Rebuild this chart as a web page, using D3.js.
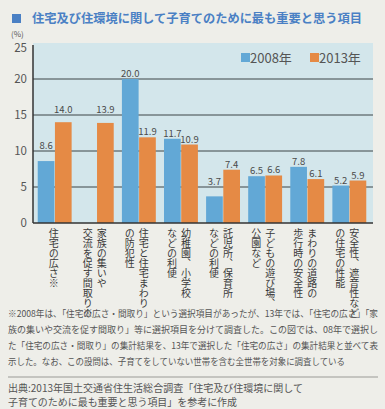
<!DOCTYPE html>
<html>
<head>
<meta charset="utf-8">
<script src="https://cdn.jsdelivr.net/npm/d3@7"></script>
<style>
  html, body { margin: 0; padding: 0; background: #eeeee9; }
  svg { display: block; font-family: "Noto Sans CJK JP", "Noto Sans", sans-serif; }
</style>
</head>
<body>
<svg id="chart" width="385" height="409"></svg>
<script>
// categories, columns of the vertical label split by "|"
var categories = [
  "住宅の広さ※",
  "家族の集いや|交流を促す間取り※",
  "住宅と住宅まわり|の防犯性",
  "幼稚園、小学校|などの利便",
  "託児所、保育所|などの利便",
  "子どもの遊び場、|公園など",
  "まわりの道路の|歩行時の安全性",
  "安全性、遮音性など|の住宅の性能"
];
var seriesNames = ["2008年", "2013年"];
var values2008 = [8.6, null, 20.0, 11.7, 3.7, 6.5, 7.8, 5.2];
var values2013 = [14.0, 13.9, 11.9, 10.9, 7.4, 6.6, 6.1, 5.9];
var yTicks = [0, 5, 10, 15, 20, 25];

var title = "住宅及び住環境に関して子育てのために最も重要と思う項目";
var noteLines = [
  "※2008年は、「住宅の広さ・間取り」という選択項目があったが、13年では、「住宅の広さ」「家",
  "族の集いや交流を促す間取り」等に選択項目を分けて調査した。この図では、08年で選択し",
  "た「住宅の広さ・間取り」の集計結果を、13年で選択した「住宅の広さ」の集計結果と並べて表",
  "示した。なお、この設問は、子育てをしていない世帯を含む全世帯を対象に調査している"
];
var sourceLines = [
  "出典:2013年国土交通省住生活総合調査「住宅及び住環境に関して",
  "子育てのために最も重要と思う項目」を参考に作成"
];

var colors = { "2008年": "#62a8d6", "2013年": "#e58a45" };
var titleBlue = "#4a80c4";

var svg = d3.select("#chart");

var plot = { left: 33, right: 373, top: 43, bottom: 223 };

var x = d3.scaleBand()
    .domain(d3.range(categories.length))
    .range([plot.left, plot.right - 2])
    .paddingInner(0.17)
    .paddingOuter(0.1);

var x1 = d3.scaleBand()
    .domain(seriesNames)
    .range([0, x.bandwidth()])
    .padding(0.03);

var y = d3.scaleLinear()
    .domain([0, 25])
    .range([plot.bottom, plot.top]);

// title
svg.append("rect")
    .attr("x", 12).attr("y", 14)
    .attr("width", 9).attr("height", 9)
    .attr("fill", titleBlue);
svg.append("text")
    .attr("x", 32).attr("y", 23)
    .attr("font-size", 12.2)
    .attr("font-weight", "bold")
    .attr("fill", titleBlue)
    .attr("textLength", 330)
    .attr("lengthAdjust", "spacingAndGlyphs")
    .text(title);

// plot background
svg.append("rect")
    .attr("x", plot.left).attr("y", plot.top)
    .attr("width", plot.right - plot.left)
    .attr("height", plot.bottom - plot.top)
    .attr("fill", "#d3e6eb");

// gridlines
svg.append("g").selectAll("line")
    .data(yTicks.filter(function(d) { return d > 0 && d < 25; }))
  .enter().append("line")
    .attr("x1", plot.left).attr("x2", plot.right)
    .attr("y1", function(d) { return y(d); })
    .attr("y2", function(d) { return y(d); })
    .attr("stroke", "#3d4446")
    .attr("stroke-width", 1);

// y tick labels
svg.append("g").selectAll("text")
    .data(yTicks)
  .enter().append("text")
    .attr("x", 27)
    .attr("y", function(d) { return y(d) + (d === 25 ? 5 : 0); })
    .attr("dy", "0.35em")
    .attr("text-anchor", "end")
    .attr("font-size", 11.5)
    .attr("fill", "#555")
    .text(function(d) { return d; });

svg.append("text")
    .attr("x", 11).attr("y", 37)
    .attr("font-size", 8)
    .attr("fill", "#555")
    .text("(%)");

// bars
var rows = categories.map(function(c, i) {
  return { i: i, vals: [
    { key: seriesNames[0], v: values2008[i] },
    { key: seriesNames[1], v: values2013[i] }
  ]};
});

var groups = svg.append("g").selectAll("g")
    .data(rows)
  .enter().append("g")
    .attr("transform", function(d) { return "translate(" + x(d.i) + ",0)"; });

var bars = groups.selectAll("g")
    .data(function(d) { return d.vals.filter(function(v) { return v.v !== null; }); })
  .enter();

bars.append("rect")
    .attr("x", function(d) { return x1(d.key); })
    .attr("y", function(d) { return y(d.v); })
    .attr("width", x1.bandwidth())
    .attr("height", function(d) { return plot.bottom - y(d.v); })
    .attr("fill", function(d) { return colors[d.key]; });

// value labels, bumped above a gridline that would cut through them
var gridYs = [5, 10, 15, 20].map(y);
function labelY(v) {
  var top = y(v);
  var base = top - 2;
  gridYs.forEach(function(g) {
    if (g < top - 0.5 && g > top - 12) { base = g - 2; }
  });
  return base;
}

bars.append("text")
    .attr("x", function(d) { return x1(d.key) + x1.bandwidth() / 2; })
    .attr("y", function(d) { return labelY(d.v); })
    .attr("text-anchor", "middle")
    .attr("font-size", 9.5)
    .attr("fill", "#4a4a4a")
    .text(function(d) { return d3.format(".1f")(d.v); });

// axes lines
svg.append("line")
    .attr("x1", plot.left).attr("x2", plot.left)
    .attr("y1", plot.top + 2).attr("y2", plot.bottom)
    .attr("stroke", "#333").attr("stroke-width", 1.5);
svg.append("line")
    .attr("x1", plot.left).attr("x2", plot.right)
    .attr("y1", plot.bottom).attr("y2", plot.bottom)
    .attr("stroke", "#333").attr("stroke-width", 1.5);

// legend
var legend = svg.append("g").attr("transform", "translate(241,53)");
seriesNames.forEach(function(name, i) {
  var g = legend.append("g").attr("transform", "translate(" + (i * 69) + ",0)");
  g.append("rect").attr("x", 0).attr("y", 0).attr("width", 9).attr("height", 9)
      .attr("fill", colors[name]);
  g.append("text").attr("x", 9).attr("y", 9.5)
      .attr("font-size", 13).attr("fill", "#555")
      .text(name);
});

// vertical category labels
categories.forEach(function(c, i) {
  var cols = c.split("|");
  var cx = x(i) + x.bandwidth() / 2;
  cols.forEach(function(col, j) {
    var colX = cols.length === 1 ? cx - 1 : cx + 5 - j * 14;
    svg.append("text")
        .attr("x", colX)
        .attr("y", 228)
        .attr("font-size", 10)
        .attr("fill", "#3a3a3a")
        .style("writing-mode", "vertical-rl")
        .text(col);
  });
});

// note
svg.append("g").selectAll("text")
    .data(noteLines)
  .enter().append("text")
    .attr("x", 8)
    .attr("y", function(d, i) { return 317 + i * 16; })
    .attr("font-size", 9)
    .attr("fill", "#555")
    .attr("textLength", function(d, i) { return i === 3 ? 337 : 370; })
    .attr("lengthAdjust", "spacingAndGlyphs")
    .text(function(d) { return d; });

svg.append("line")
    .attr("x1", 8).attr("x2", 378)
    .attr("y1", 377).attr("y2", 377)
    .attr("stroke", "#9a9a96").attr("stroke-width", 1);

svg.append("g").selectAll("text")
    .data(sourceLines)
  .enter().append("text")
    .attr("x", 8)
    .attr("y", function(d, i) { return 392 + i * 14; })
    .attr("font-size", 10)
    .attr("fill", "#555")
    .attr("textLength", function(d, i) { return i === 0 ? 295 : 229; })
    .attr("lengthAdjust", "spacingAndGlyphs")
    .text(function(d) { return d; });
</script>
</body>
</html>
